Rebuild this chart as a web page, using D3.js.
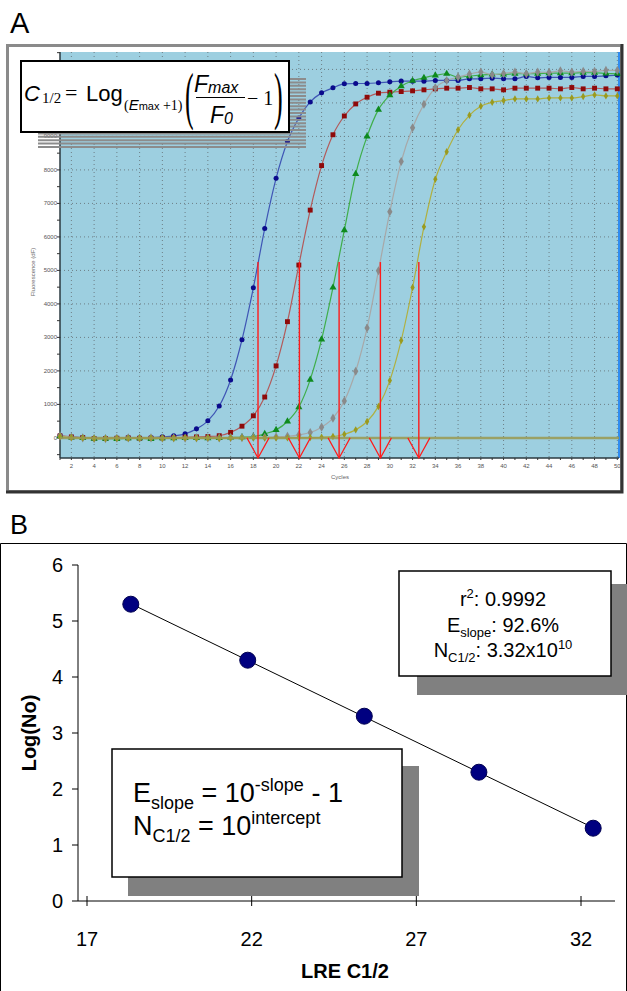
<!DOCTYPE html>
<html><head><meta charset="utf-8">
<script src="https://cdn.jsdelivr.net/npm/d3@7"></script>
<style>body{margin:0;background:#fff;} svg{display:block;}</style>
</head><body>
<script>
// ---------- Panel A data ----------
const cycles = d3.range(1, 51);
const blueSeries = [70,20,10,-10,-10,0,10,0,10,30,60,120,270,510,950,1730,2930,4480,6250,7750,8850,9550,10030,10300,10450,10570,10580,10580,10600,10630,10650,10650,10650,10670,10670,10670,10720,10720,10740,10720,10720,10790,10750,10760,10760,10760,10790,10790,10810,10830];
const redSeries = [60,30,10,-20,-20,-10,0,-10,-10,0,10,20,30,40,65,165,350,660,1220,2150,3470,5160,6800,8130,9050,9610,9970,10170,10290,10320,10340,10360,10390,10420,10440,10440,10460,10420,10420,10390,10440,10440,10440,10440,10420,10460,10420,10440,10420,10420];
const greenSeries = [50,10,0,-20,-20,-30,-10,-10,-30,-10,-10,0,0,-10,0,10,20,40,120,240,490,920,1740,2940,4490,6200,7880,9000,9800,10230,10500,10660,10750,10820,10870,10770,10800,10830,10850,10850,10870,10870,10870,10890,10890,10890,10900,10900,10880,10870];
const graySeries = [60,20,0,-20,-20,-10,0,-10,0,-10,0,-10,0,0,0,10,10,20,20,30,50,90,160,320,590,1100,1990,3280,4990,6750,8250,9260,9960,10450,10670,10770,10860,10920,10840,10880,10920,10870,10920,10910,10960,10920,10940,10940,10970,10970];
const oliveSeries = [40,10,0,-20,-20,-10,-10,-10,0,-10,-10,0,-10,0,-10,0,0,0,0,0,0,10,10,20,40,110,240,490,940,1710,2910,4490,6300,7720,8540,9200,9630,9900,10020,10070,10120,10120,10120,10150,10150,10150,10190,10240,10210,10210];
const halfMaxCycle = [18.41, 22.05, 25.54, 29.17, 32.55];
const halfMaxLevel = [5250, 5250, 5250, 5250, 5250];
const yTicksA = d3.range(0, 11001, 1000);
const yTickLabelsA = d3.range(0, 9001, 1000);
const yMinorA = d3.range(-500, 11501, 500);
const xTicksA = d3.range(2, 51, 2);

// ---------- Panel B data ----------
const lreC12 = [18.33, 21.88, 25.42, 28.9, 32.37];
const logNo = [5.3, 4.3, 3.3, 2.3, 1.3];
const xTicksB = [17, 22, 27, 32];
const yTicksB = [0, 1, 2, 3, 4, 5, 6];

const W = 627, H = 991;
const SANS = "'Liberation Sans', Arial, sans-serif";
const SERIF = "'Liberation Serif', 'Times New Roman', serif";
const svg = d3.select("body").append("svg").attr("width", W).attr("height", H)
  .style("font-family", SANS);
svg.append("rect").attr("width", W).attr("height", H).attr("fill", "#fff");

// ================= PANEL A =================
svg.append("text").attr("x", 10).attr("y", 33).attr("font-size", 29).text("A");
svg.append("rect").attr("x", 7.5).attr("y", 45.5).attr("width", 614).attr("height", 446)
  .attr("fill", "#fff").attr("stroke", "#8a8a8a").attr("stroke-width", 3);
svg.append("path").attr("d", "M622,44V492H6").attr("fill", "none").attr("stroke", "#333").attr("stroke-width", 3);

const xA = d3.scaleLinear().domain([1, 50.15]).range([60, 619]);
const yA = d3.scaleLinear().domain([-600, 11520]).range([458, 52]);
const gA = svg.append("g");
gA.append("rect").attr("x", xA(1)).attr("y", yA(11520)).attr("width", xA(50.15) - xA(1))
  .attr("height", yA(-600) - yA(11520)).attr("fill", "#9dcfe0");
gA.selectAll(".hg").data(yTicksA.filter(d => d > 0)).join("line")
  .attr("x1", xA(1)).attr("x2", xA(50.15)).attr("y1", d => yA(d)).attr("y2", d => yA(d))
  .attr("stroke", "#6d7f86").attr("stroke-width", 1).attr("stroke-dasharray", "1,3");
gA.selectAll(".vg").data(xTicksA).join("line")
  .attr("x1", d => xA(d)).attr("x2", d => xA(d)).attr("y1", yA(11520)).attr("y2", yA(-600))
  .attr("stroke", "#6d7f86").attr("stroke-width", 1).attr("stroke-dasharray", "1,3");
gA.append("line").attr("x1", xA(50.15)).attr("x2", xA(50.15)).attr("y1", yA(11520)).attr("y2", yA(-600))
  .attr("stroke", "#2f8cf0").attr("stroke-width", 2);
gA.append("line").attr("x1", xA(1)).attr("x2", xA(1)).attr("y1", yA(11520)).attr("y2", yA(-600))
  .attr("stroke", "#2b3a40").attr("stroke-width", 1.5);
gA.append("line").attr("x1", xA(1)).attr("x2", xA(50.15)).attr("y1", yA(-600)).attr("y2", yA(-600))
  .attr("stroke", "#2b3a40").attr("stroke-width", 1.5);
gA.selectAll(".ytk").data(yMinorA).join("line")
  .attr("x1", xA(1) - 3).attr("x2", xA(1)).attr("y1", d => yA(d)).attr("y2", d => yA(d))
  .attr("stroke", "#333");
gA.selectAll(".xtk").data(cycles).join("line")
  .attr("x1", d => xA(d)).attr("x2", d => xA(d)).attr("y1", yA(-600)).attr("y2", yA(-600) + 2)
  .attr("stroke", "#333");
gA.selectAll(".ylab").data(yTickLabelsA).join("text")
  .attr("x", xA(1) - 3).attr("y", d => yA(d) + 2).attr("text-anchor", "end")
  .attr("font-size", 6).attr("fill", "#555").text(d => d);
gA.selectAll(".xlab").data(xTicksA).join("text")
  .attr("x", d => xA(d)).attr("y", yA(-600) + 10).attr("text-anchor", "middle")
  .attr("font-size", 6).attr("fill", "#555").text(d => d);
gA.append("text").attr("x", 340).attr("y", 479).attr("text-anchor", "middle")
  .attr("font-size", 6).attr("fill", "#666").text("Cycles");
gA.append("text").attr("transform", "translate(35,272) rotate(-90)").attr("text-anchor", "middle")
  .attr("font-size", 6).attr("fill", "#666").text("Fluorescence (dF)");

const seriesA = [
  {vals: blueSeries, line: "#3f55b5", fill: "#0a0a8c", shape: d3.symbolCircle, size: 20},
  {vals: redSeries, line: "#b35a5a", fill: "#8e0a0a", shape: d3.symbolSquare, size: 24},
  {vals: greenSeries, line: "#3fae4a", fill: "#0e8a1e", shape: d3.symbolTriangle, size: 22},
  {vals: graySeries, line: "#a8a8a8", fill: "#8a8a8a", shape: d3.symbolDiamond, size: 24},
  {vals: oliveSeries, line: "#b0b040", fill: "#9a9a1e", shape: d3.symbolDiamond, size: 16}
];
const lineA = d3.line().x((d, i) => xA(cycles[i])).y(d => yA(d)).curve(d3.curveMonotoneX);
seriesA.forEach(s => {
  gA.append("path").attr("d", lineA(s.vals)).attr("fill", "none").attr("stroke", s.line).attr("stroke-width", 1.2);
});
seriesA.forEach(s => {
  gA.selectAll(null).data(s.vals).join("path")
    .attr("transform", (d, i) => `translate(${xA(cycles[i])},${yA(d)})`)
    .attr("d", d3.symbol().type(s.shape).size(s.size)).attr("fill", s.fill);
});
gA.append("line").attr("x1", xA(1)).attr("x2", xA(50.15)).attr("y1", yA(0)).attr("y2", yA(0))
  .attr("stroke", "#9a9a50").attr("stroke-width", 2.5).attr("opacity", 0.85);
halfMaxCycle.forEach((c, i) => {
  gA.append("line").attr("x1", xA(c)).attr("x2", xA(c)).attr("y1", yA(halfMaxLevel[i])).attr("y2", yA(-600))
    .attr("stroke", "#ff1a1a").attr("stroke-width", 1.4);
  gA.append("path").attr("d", `M${xA(c - 0.97)},${yA(0)}L${xA(c)},${yA(-600)}L${xA(c + 0.97)},${yA(0)}`)
    .attr("fill", "none").attr("stroke", "#ff1a1a").attr("stroke-width", 1.2);
});
const stripeYs = d3.range(79, 148, 3.4);
svg.selectAll(".stripe").data(stripeYs).join("line")
  .attr("x1", 38).attr("x2", 306).attr("y1", d => d).attr("y2", d => d)
  .attr("stroke", "#8c8c8c").attr("stroke-width", 2);
// formula box
svg.append("rect").attr("x", 21).attr("y", 61).attr("width", 268).attr("height", 71)
  .attr("fill", "#fff").attr("stroke", "#000").attr("stroke-width", 2);
const f = svg.append("g");
f.append("text").attr("x", 24).attr("y", 101).attr("font-size", 22).attr("font-style", "italic").text("C");
f.append("text").attr("x", 42).attr("y", 103).attr("font-size", 15).attr("font-family", SERIF).text("1/2");
f.append("text").attr("x", 65).attr("y", 100).attr("font-size", 22).attr("font-family", SERIF).text("=");
f.append("text").attr("x", 86).attr("y", 101).attr("font-size", 22).text("Log");
const sub = f.append("text").attr("x", 124).attr("y", 110).attr("font-size", 14).attr("font-family", SERIF);
sub.append("tspan").text("(");
sub.append("tspan").attr("font-family", SANS).attr("font-style", "italic").attr("font-size", 15).text("E");
sub.append("tspan").attr("font-family", SANS).attr("font-size", 11).text("max");
sub.append("tspan").text(" +1)");
f.append("text").attr("transform", "translate(185,117) scale(1,2.4)").attr("font-size", 26).attr("font-family", SERIF).text("(");
const num = f.append("text").attr("x", 194).attr("y", 92).attr("font-size", 23).attr("font-style", "italic");
num.append("tspan").text("F");
num.append("tspan").attr("font-size", 16).attr("dy", 1).text("max");
f.append("line").attr("x1", 196).attr("x2", 245).attr("y1", 97.5).attr("y2", 97.5).attr("stroke", "#000").attr("stroke-width", 1.2);
const den = f.append("text").attr("x", 210).attr("y", 123).attr("font-size", 23).attr("font-style", "italic");
den.append("tspan").text("F");
den.append("tspan").attr("font-size", 16).attr("dy", 1).text("0");
f.append("text").attr("x", 247).attr("y", 105).attr("font-size", 20).attr("font-family", SERIF).text("\u2212 1");
f.append("text").attr("transform", "translate(274,117) scale(1,2.4)").attr("font-size", 26).attr("font-family", SERIF).text(")");

// ================= PANEL B =================
svg.append("text").attr("x", 10).attr("y", 534).attr("font-size", 27).text("B");
svg.append("path").attr("d", "M0.5,991V543.5H626.5V991").attr("fill", "none").attr("stroke", "#000").attr("stroke-width", 1);

const xB = d3.scaleLinear().domain([17, 32]).range([87, 581]);
const yB = d3.scaleLinear().domain([0, 6]).range([901, 565]);
const gB = svg.append("g");
gB.append("line").attr("x1", 78).attr("x2", 78).attr("y1", yB(6)).attr("y2", yB(0)).attr("stroke", "#000");
gB.append("line").attr("x1", 78).attr("x2", 615).attr("y1", yB(0)).attr("y2", yB(0)).attr("stroke", "#000");
gB.selectAll(".ty").data(yTicksB).join("line")
  .attr("x1", 72).attr("x2", 78).attr("y1", d => yB(d)).attr("y2", d => yB(d)).attr("stroke", "#000");
gB.selectAll(".ly").data(yTicksB).join("text")
  .attr("x", 63).attr("y", d => yB(d) + 7).attr("text-anchor", "end").attr("font-size", 20).text(d => d);
gB.selectAll(".tx").data(xTicksB).join("line")
  .attr("x1", d => xB(d)).attr("x2", d => xB(d)).attr("y1", yB(0) - 5).attr("y2", yB(0) + 5).attr("stroke", "#000");
gB.selectAll(".lx").data(xTicksB).join("text")
  .attr("x", d => xB(d)).attr("y", yB(0) + 45).attr("text-anchor", "middle").attr("font-size", 20).text(d => d);
gB.append("text").attr("transform", "translate(36,733) rotate(-90)").attr("text-anchor", "middle")
  .attr("font-size", 20).attr("font-weight", "bold").text("Log(No)");
gB.append("text").attr("x", 345).attr("y", 978).attr("text-anchor", "middle")
  .attr("font-size", 20).attr("font-weight", "bold").text("LRE C1/2");

const mx = d3.mean(lreC12), my = d3.mean(logNo);
const slope = d3.sum(lreC12, (x, i) => (x - mx) * (logNo[i] - my)) / d3.sum(lreC12, x => (x - mx) ** 2);
const icpt = my - slope * mx;
const x0 = d3.min(lreC12), x1 = d3.max(lreC12);
gB.append("line").attr("x1", xB(x0)).attr("y1", yB(icpt + slope * x0)).attr("x2", xB(x1)).attr("y2", yB(icpt + slope * x1))
  .attr("stroke", "#000").attr("stroke-width", 1);
gB.selectAll(".pt").data(lreC12).join("circle")
  .attr("cx", d => xB(d)).attr("cy", (d, i) => yB(logNo[i])).attr("r", 8)
  .attr("fill", "#000080").attr("stroke", "#000050").attr("stroke-width", 1);

// stats box
svg.append("rect").attr("x", 417).attr("y", 584).attr("width", 215).attr("height", 111).attr("fill", "#808080");
svg.append("rect").attr("x", 399).attr("y", 571).attr("width", 212).attr("height", 105)
  .attr("fill", "#fff").attr("stroke", "#000").attr("stroke-width", 1.5);
const t1 = svg.append("text").attr("x", 503).attr("y", 606).attr("text-anchor", "middle").attr("font-size", 20);
t1.append("tspan").text("r");
t1.append("tspan").attr("font-size", 13).attr("dy", -8).text("2");
t1.append("tspan").attr("dy", 8).text(": 0.9992");
const t2 = svg.append("text").attr("x", 503).attr("y", 632).attr("text-anchor", "middle").attr("font-size", 20);
t2.append("tspan").text("E");
t2.append("tspan").attr("font-size", 13).attr("dy", 5).text("slope");
t2.append("tspan").attr("dy", -5).text(": 92.6%");
const t3 = svg.append("text").attr("x", 503).attr("y", 657).attr("text-anchor", "middle").attr("font-size", 20);
t3.append("tspan").text("N");
t3.append("tspan").attr("font-size", 13).attr("dy", 5).text("C1/2");
t3.append("tspan").attr("dy", -5).text(": 3.32x10");
t3.append("tspan").attr("font-size", 13).attr("dy", -8).text("10");

// equation box
svg.append("rect").attr("x", 128).attr("y", 766).attr("width", 291).attr("height", 130).attr("fill", "#808080");
svg.append("rect").attr("x", 112).attr("y", 749).attr("width", 290).attr("height", 128)
  .attr("fill", "#fff").attr("stroke", "#000").attr("stroke-width", 1.5);
const e1 = svg.append("text").attr("x", 133).attr("y", 802).attr("font-size", 27);
e1.append("tspan").text("E");
e1.append("tspan").attr("font-size", 18).attr("dy", 7).text("slope");
e1.append("tspan").attr("dy", -7).text(" = 10");
e1.append("tspan").attr("font-size", 18).attr("dy", -11).text("-slope");
e1.append("tspan").attr("dy", 11).text(" - 1");
const e2 = svg.append("text").attr("x", 133).attr("y", 835).attr("font-size", 27);
e2.append("tspan").text("N");
e2.append("tspan").attr("font-size", 18).attr("dy", 7).text("C1/2");
e2.append("tspan").attr("dy", -7).text(" = 10");
e2.append("tspan").attr("font-size", 18).attr("dy", -11).text("intercept");
</script>
</body></html>
